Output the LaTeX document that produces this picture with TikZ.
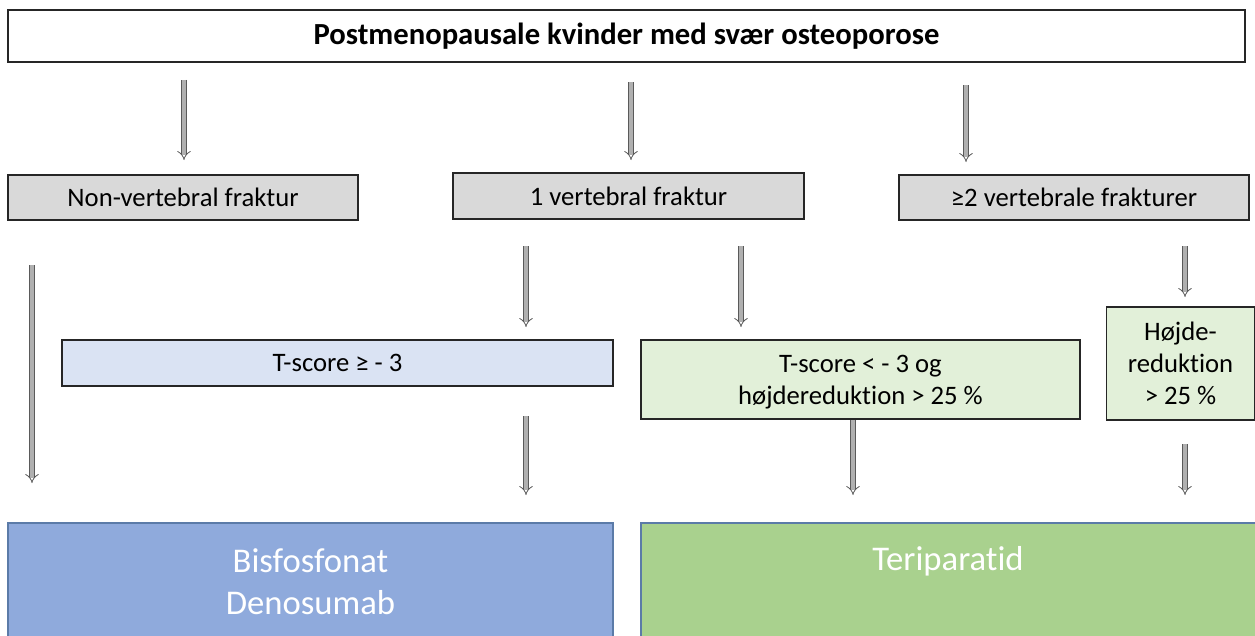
\documentclass[tikz,border=0pt]{standalone}
\usepackage{fontspec}
\setmainfont{Carlito}[Ligatures=NoCommon]
\usetikzlibrary{arrows.meta}
\definecolor{boxgray}{HTML}{D9D9D9}
\definecolor{lblue}{HTML}{DAE3F3}
\definecolor{lgreen}{HTML}{E2F0D9}
\definecolor{dblue}{HTML}{8FAADC}
\definecolor{dgreen}{HTML}{A9D18E}
\definecolor{edgeb}{HTML}{5B7BA8}
\definecolor{darr}{HTML}{5A5A5A}
\definecolor{larr}{HTML}{B0B0B0}
\tikzset{
  box/.style={draw=black!85, line width=0.9pt, rectangle, align=center, inner sep=0pt, font=\fontsize{20}{24}\selectfont},
  graybox/.style={box, fill=boxgray},
  bigbox/.style={draw=edgeb, line width=1.3pt, rectangle, inner sep=0pt},
  bigtext/.style={text=white, align=center, font=\fontsize{26}{31.5}\selectfont},
  flow/.style={draw=darr, line width=0.6pt, double=larr, double distance=3pt, -{Implies[length=4.5pt, width=8pt]}},
}
\begin{document}
\begin{tikzpicture}[x=0.75pt, y=-0.75pt]
\useasboundingbox (0,0) rectangle (1255,635);
% boxes
\node[box, fill=white, minimum width=927.75pt, minimum height=39pt, font=\bfseries\fontsize{23}{27}\selectfont] (top) at (626.5,36) {Postmenopausale kvinder med svær osteoporose};
\node[graybox, minimum width=262.5pt, minimum height=33.75pt] (nonv) at (183,197.5) {Non-vertebral fraktur};
\node[graybox, minimum width=263.25pt, minimum height=34.5pt] (onev) at (628.5,196) {1 vertebral fraktur};
\node[graybox, minimum width=262.5pt, minimum height=33.75pt] (twov) at (1074,197.5) {≥2 vertebrale frakturer};
\node[box, fill=lblue, minimum width=413.25pt, minimum height=34.5pt] (tge) at (337.5,363) {T-score ≥ - 3};
\node[box, fill=lgreen, minimum width=329.25pt, minimum height=59.25pt] (tlt) at (860.5,379.5) {};
\node[box, fill=none, draw=none] (tlttext) at (860.5,382.5) {T-score < - 3 og\\højdereduktion > 25 \%};
\node[box, fill=lgreen, minimum width=111pt, minimum height=84.75pt] (hoj) at (1180.5,363.5) {Højde-\\reduktion\\> 25 \%};
\node[bigbox, fill=dblue, minimum width=453.75pt, minimum height=87pt] (bis) at (310.5,581) {};
\node[bigbox, fill=dgreen, minimum width=471pt, minimum height=87pt] (ter) at (955,581) {};
\node[bigtext] (bistext) at (310.5,581.5) {Bisfosfonat\\Denosumab};
\node[bigtext] (tertext) at (948,561) {Teriparatid};
% arrow anchor coordinates
\coordinate (a1s) at (184,80);  \coordinate (a1e) at (184,160);
\coordinate (a2s) at (631,82);  \coordinate (a2e) at (631,160);
\coordinate (a3s) at (966,85);  \coordinate (a3e) at (966,162);
\coordinate (a4s) at (32,265);  \coordinate (a4e) at (32,483);
\coordinate (a5s) at (526,246); \coordinate (a5e) at (526,327);
\coordinate (a6s) at (741,246); \coordinate (a6e) at (741,327);
\coordinate (a7s) at (1185,246);\coordinate (a7e) at (1185,297);
\coordinate (a8s) at (526,416); \coordinate (a8e) at (526,495);
\coordinate (a9s) at (853,420); \coordinate (a9e) at (853,495);
\coordinate (a10s) at (1185,444);\coordinate (a10e) at (1185,495);
\foreach \i in {1,...,10} {\draw[flow] (a\i s) -- (a\i e);}
\end{tikzpicture}
\end{document}
